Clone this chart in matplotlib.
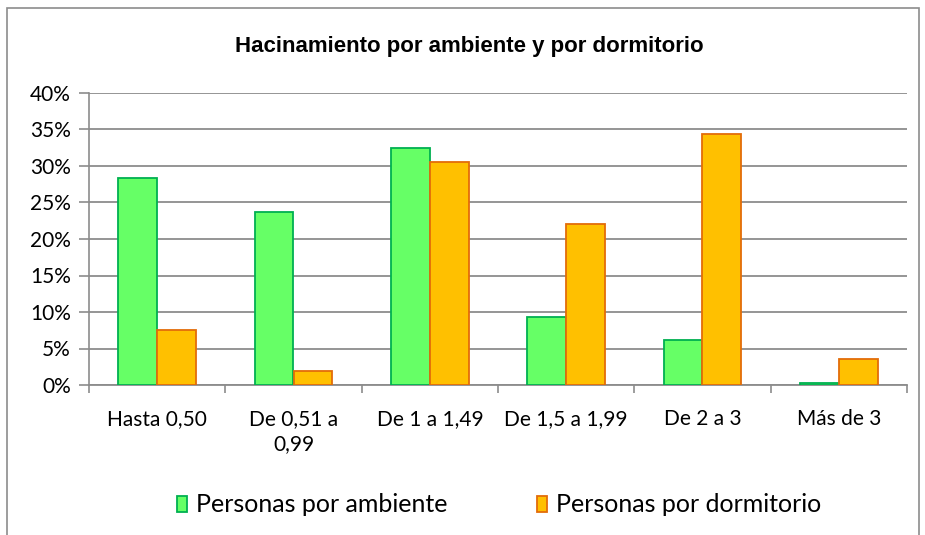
import numpy as np
import matplotlib.pyplot as plt
from matplotlib.patches import Rectangle
from matplotlib.ticker import PercentFormatter

# datos
categorias = ["Hasta 0,50", "De 0,51 a\n0,99", "De 1 a 1,49", "De 1,5 a 1,99", "De 2 a 3", "Más de 3"]
por_ambiente = [28.3, 23.7, 32.5, 9.3, 6.1, 0.3]
por_dormitorio = [7.6, 1.9, 30.5, 22.0, 34.4, 3.6]

plt.rcParams['font.family'] = ['Lato', 'DejaVu Sans']

fig = plt.figure(figsize=(9.25, 5.35), dpi=100)
# marco del grafico
fig.patches.append(Rectangle((7/925, -0.05), 912/925, 1 - 8/535 + 0.05, transform=fig.transFigure,
                             fill=False, edgecolor='#8c8c8c', linewidth=1.2))

ax = fig.add_axes([89/925, 1 - 385/535, 818/925, 292/535])
x = np.arange(len(categorias))
w = 0.285
ax.bar(x - w/2, por_ambiente, w, color='#66ff66', edgecolor='#00b050', linewidth=1.3,
       label='Personas por ambiente', zorder=3)
ax.bar(x + w/2, por_dormitorio, w, color='#ffc000', edgecolor='#e36c09', linewidth=1.3,
       label='Personas por dormitorio', zorder=3)

ax.set_xlim(-0.5, len(categorias) - 0.5)
ax.set_ylim(0, 40)
ax.set_yticks(np.arange(0, 41, 5))
ax.yaxis.set_major_formatter(PercentFormatter(decimals=0))
ax.yaxis.grid(True, color='#8c8c8c', linewidth=1.3, zorder=0)

ax.set_xticks(x)
ax.set_xticklabels(categorias, fontsize=15, linespacing=1.35)
ax.set_xticks(np.arange(-0.5, len(categorias)), minor=True)
ax.tick_params(axis='x', which='major', length=0, pad=17)
ax.tick_params(axis='x', which='minor', length=6, color='#8c8c8c', width=1.2)
ax.tick_params(axis='y', length=7, color='#8c8c8c', width=1.2, labelsize=15, pad=6)

for s in ['top', 'right']:
    ax.spines[s].set_visible(False)
ax.spines['left'].set_color('#8c8c8c')
ax.spines['bottom'].set_color('#8c8c8c')
ax.spines['left'].set_linewidth(1.2)
ax.spines['bottom'].set_linewidth(1.3)

fig.text(469/925, 1 - 47/535, "Hacinamiento por ambiente y por dormitorio",
         ha='center', va='center', fontsize=16, fontweight='bold',
         family=['Liberation Sans Narrow', 'Liberation Sans', 'DejaVu Sans'])

fig.legend(loc='center', bbox_to_anchor=(499/925, 1 - 505/535), ncol=2, frameon=False,
           fontsize=18, handlelength=0.4, handleheight=0.6, handletextpad=0.35,
           columnspacing=3.6)

fig.savefig('out.png', dpi=100)
